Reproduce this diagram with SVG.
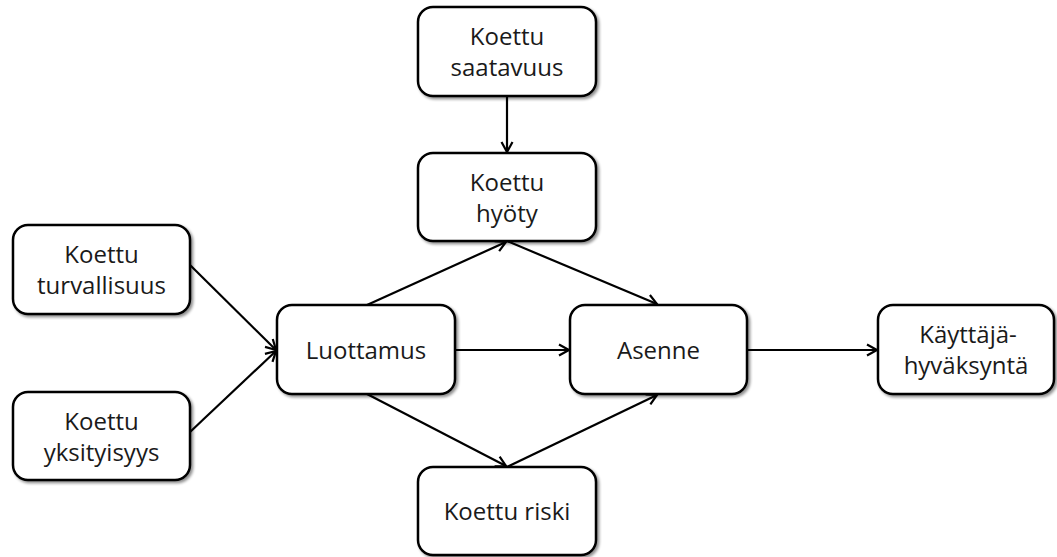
<svg xmlns="http://www.w3.org/2000/svg" width="1057" height="557" viewBox="0 0 1057 557">
<defs>
<filter id="sh" x="-10%" y="-10%" width="125%" height="130%">
<feGaussianBlur in="SourceAlpha" stdDeviation="1.8"/>
<feOffset dx="1.5" dy="2" result="b"/>
<feComponentTransfer><feFuncA type="linear" slope="0.45"/></feComponentTransfer>
<feMerge><feMergeNode/><feMergeNode in="SourceGraphic"/></feMerge>
</filter>
<marker id="arr" markerUnits="userSpaceOnUse" markerWidth="16" markerHeight="16" refX="11" refY="7" orient="auto">
<path d="M1,1.5 L11,7 L1,12.5" fill="none" stroke="#000" stroke-width="2.2" stroke-linejoin="miter"/>
</marker>
<style>
.box{fill:#fff;stroke:#000;stroke-width:2.5;filter:url(#sh)}
.t{font-family:"Open Sans","Liberation Sans",sans-serif;font-size:24px;fill:#1a1a1a;text-anchor:middle}
.c{stroke:#000;stroke-width:2.2;fill:none;marker-end:url(#arr)}
</style>
</defs>
<g id="connectors">
<line class="c" x1="507" y1="96" x2="507" y2="152"/>
<line class="c" x1="190" y1="265" x2="276" y2="350"/>
<line class="c" x1="190" y1="432" x2="276" y2="351"/>
<line class="c" x1="367" y1="305" x2="506" y2="242"/>
<line class="c" x1="507" y1="241" x2="657" y2="304"/>
<line class="c" x1="455" y1="350" x2="569" y2="350"/>
<line class="c" x1="367" y1="394" x2="506" y2="466"/>
<line class="c" x1="507" y1="467" x2="657" y2="395"/>
<line class="c" x1="747" y1="350" x2="877" y2="350"/>
</g>
<g id="saatavuus">
<rect class="box" x="418" y="7" width="178" height="89" rx="15"/>
<text class="t" x="507" y="45">Koettu</text>
<text class="t" x="507" y="76">saatavuus</text>
</g>
<g id="hyoty">
<rect class="box" x="418" y="153" width="178" height="88" rx="15"/>
<text class="t" x="507" y="191">Koettu</text>
<text class="t" x="507" y="222">hyöty</text>
</g>
<g id="turvallisuus">
<rect class="box" x="13" y="225" width="177" height="89" rx="15"/>
<text class="t" x="101.5" y="263">Koettu</text>
<text class="t" x="101.5" y="294">turvallisuus</text>
</g>
<g id="yksityisyys">
<rect class="box" x="13" y="392" width="177" height="88" rx="15"/>
<text class="t" x="101.5" y="430">Koettu</text>
<text class="t" x="101.5" y="461">yksityisyys</text>
</g>
<g id="luottamus">
<rect class="box" x="277" y="305" width="178" height="89" rx="15"/>
<text class="t" x="366" y="359">Luottamus</text>
</g>
<g id="asenne">
<rect class="box" x="570" y="305" width="177" height="89" rx="15"/>
<text class="t" x="658.5" y="359">Asenne</text>
</g>
<g id="kayttajahyvaksynta">
<rect class="box" x="878" y="305" width="176" height="89" rx="15"/>
<text class="t" x="968" y="343">Käyttäjä-</text>
<text class="t" x="966" y="374">hyväksyntä</text>
</g>
<g id="riski">
<rect class="box" x="418" y="467" width="178" height="88" rx="15"/>
<text class="t" x="507" y="520">Koettu riski</text>
</g>
</svg>
